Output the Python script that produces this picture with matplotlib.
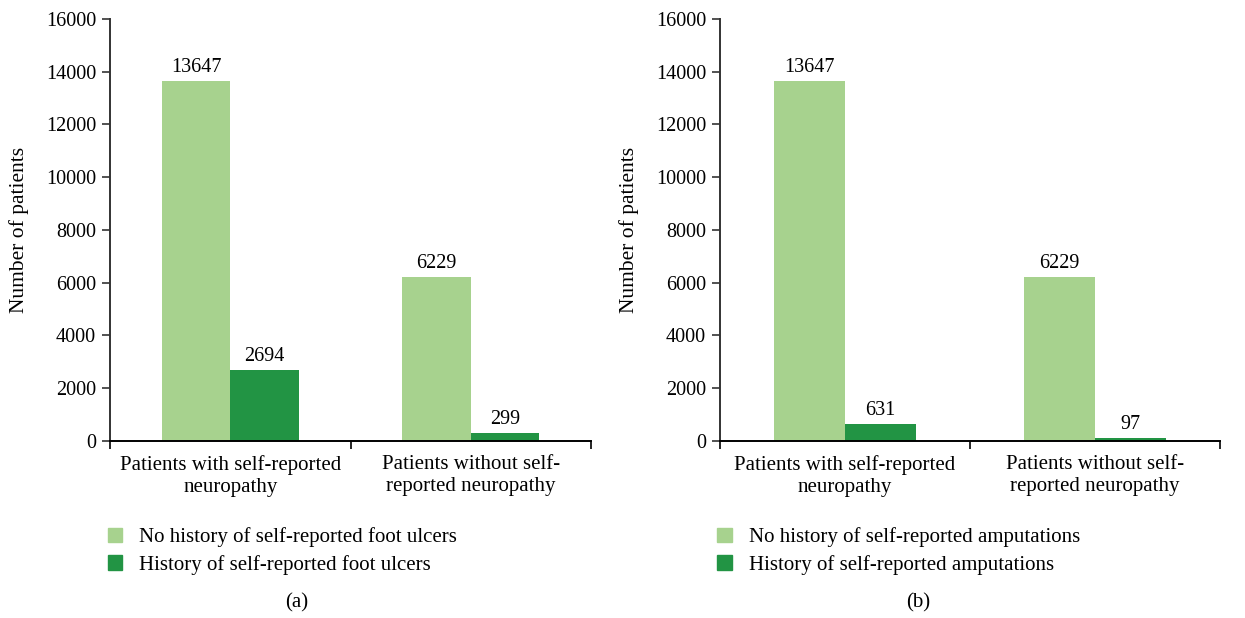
import numpy as np
import matplotlib
matplotlib.use("Agg")
import matplotlib.pyplot as plt
from matplotlib.patches import Patch

categories = ["Patients with self-reported\nneuropathy", "Patients without self-\nreported neuropathy"]
no_ulcer = [13647, 6229]
ulcer = [2694, 299]
no_amp = [13647, 6229]
amp = [631, 97]
legend_a = ["No history of self-reported foot ulcers", "History of self-reported foot ulcers"]
legend_b = ["No history of self-reported amputations", "History of self-reported amputations"]
yticks = [0, 2000, 4000, 6000, 8000, 10000, 12000, 14000, 16000]

LIGHT, DARK = "#A7D28E", "#229444"
plt.rcParams.update({"font.family": ["Liberation Serif", "DejaVu Serif"], "font.size": 15})

fig = plt.figure(figsize=(12.45, 6.18), dpi=100)
axa = fig.add_axes([0.0884, 0.2864, 0.3863, 0.6829])
axb = fig.add_axes([0.5783, 0.2864, 0.4016, 0.6829])

def panel(ax, light, dark, labels, cap, capx):
    x = np.arange(len(categories)) + 0.5
    w = 0.285
    b1 = ax.bar(x - w/2, light, w, color=LIGHT, label=labels[0])
    b2 = ax.bar(x + w/2, dark, w, color=DARK, label=labels[1])
    for bars in (b1, b2):
        for r in bars:
            ax.annotate(f"{int(r.get_height())}", (r.get_x() + r.get_width()/2, r.get_height()),
                        xytext=(0, 3), textcoords="offset points", ha="center", va="bottom", fontsize=14.5)
    ax.set_xlim(0, 2); ax.set_ylim(0, 16000)
    ax.set_yticks(yticks)
    ax.set_xticks([0, 1, 2]); ax.set_xticklabels([])
    ax.set_xticks(x, minor=True); ax.set_xticklabels(categories, minor=True, fontsize=15, linespacing=1.2)
    ax.tick_params(axis="x", which="minor", length=0, pad=10)
    ax.tick_params(axis="x", which="major", length=6, width=1.2, color="black", direction="out")
    ax.tick_params(axis="y", length=6, width=1.2, color="#333333", labelsize=14.5, pad=4)
    for s in ("top", "right"): ax.spines[s].set_visible(False)
    ax.spines["left"].set_color("#333333"); ax.spines["left"].set_linewidth(1.4)
    ax.spines["bottom"].set_color("black"); ax.spines["bottom"].set_linewidth(1.4)
    ax.set_ylabel("Number of patients", fontsize=15.5, labelpad=12)
    handles = [Patch(color=LIGHT), Patch(color=DARK)]
    ax.legend(handles, labels, loc="upper left", bbox_to_anchor=(-0.005, -0.205), frameon=False,
              handlelength=0.7, handleheight=0.7, handletextpad=0.8, labelspacing=0.35,
              borderpad=0, borderaxespad=0, fontsize=15)
    fig.text(capx, 1 - 603/618, cap, ha="center", va="center", fontsize=15)

panel(axa, no_ulcer, ulcer, legend_a, "(a)", 297/1245)
panel(axb, no_amp, amp, legend_b, "(b)", 918/1245)

fig.savefig("out.png", dpi=100)
